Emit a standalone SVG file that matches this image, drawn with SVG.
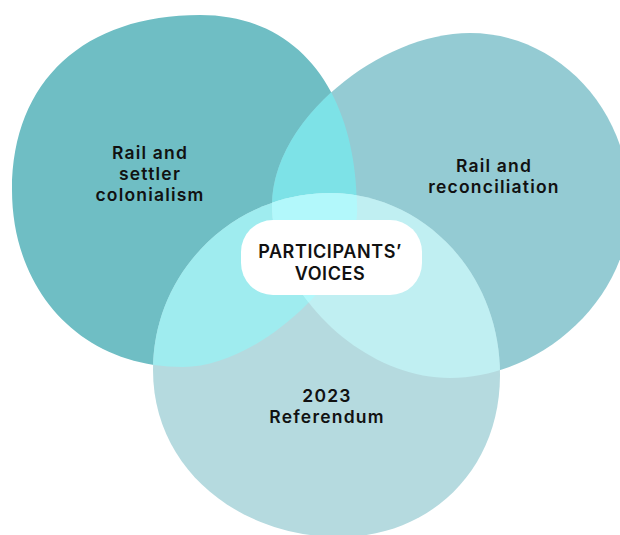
<svg xmlns="http://www.w3.org/2000/svg" xmlns:xlink="http://www.w3.org/1999/xlink" width="620" height="535" viewBox="0 0 620 535">
  <style>
    .label { font-family: Inter, "Liberation Sans", Arial, sans-serif; font-weight: 600; font-size: 17.5px; letter-spacing: 1.2px; fill: #111111; text-anchor: middle; }
    .core { font-size: 18px; letter-spacing: 0.6px; }
  </style>
  <defs>
    <!-- the three theme blobs -->
    <path id="shapeColonial" d="M200,15 C305,15 356,100 357,205 C362,270 260,367 183,367 C80,367 12,290 12,190 C12,80 85,15 200,15 Z"/>
    <path id="shapeReconcile" d="M470,33 C558,33 630,110 630,205 C630,300 540,378 450,378 C360,378 272,290 272,205 C272,120 380,33 470,33 Z"/>
    <path id="shapeReferendum" d="M330,193 C420,193 500,270 500,375 C500,470 430,537 340,537 C240,537 153,470 153,370 C153,270 235,193 330,193 Z"/>
    <clipPath id="clipColonial"><use xlink:href="#shapeColonial"/></clipPath>
    <clipPath id="clipReconcile"><use xlink:href="#shapeReconcile"/></clipPath>
  </defs>

  <g id="node-colonialism">
    <use xlink:href="#shapeColonial" fill="#6fbec4"/>
  </g>
  <g id="node-reconciliation">
    <use xlink:href="#shapeReconcile" fill="#94cbd3"/>
  </g>
  <g id="node-referendum">
    <use xlink:href="#shapeReferendum" fill="#b5dadf"/>
  </g>

  <!-- overlap tints -->
  <g id="overlaps">
    <use xlink:href="#shapeReconcile" fill="#7de2e7" clip-path="url(#clipColonial)"/>
    <use xlink:href="#shapeReferendum" fill="#9fecef" clip-path="url(#clipColonial)"/>
    <use xlink:href="#shapeReferendum" fill="#c0eff2" clip-path="url(#clipReconcile)"/>
    <g clip-path="url(#clipReconcile)">
      <use xlink:href="#shapeReferendum" fill="#b2f8fb" clip-path="url(#clipColonial)"/>
    </g>
  </g>

  <g id="labels">
    <text class="label" x="150" y="159">Rail and</text>
    <text class="label" x="150" y="180">settler</text>
    <text class="label" x="150" y="201">colonialism</text>
    <text class="label" x="494" y="172">Rail and</text>
    <text class="label" x="494" y="193">reconciliation</text>
    <text class="label" x="327" y="402">2023</text>
    <text class="label" x="327" y="423">Referendum</text>
  </g>

  <g id="node-participants">
    <rect x="241" y="220" width="181" height="75" rx="32" ry="32" fill="#ffffff"/>
    <text class="label core" x="330" y="258">PARTICIPANTS’</text>
    <text class="label core" x="330" y="280">VOICES</text>
  </g>
</svg>
